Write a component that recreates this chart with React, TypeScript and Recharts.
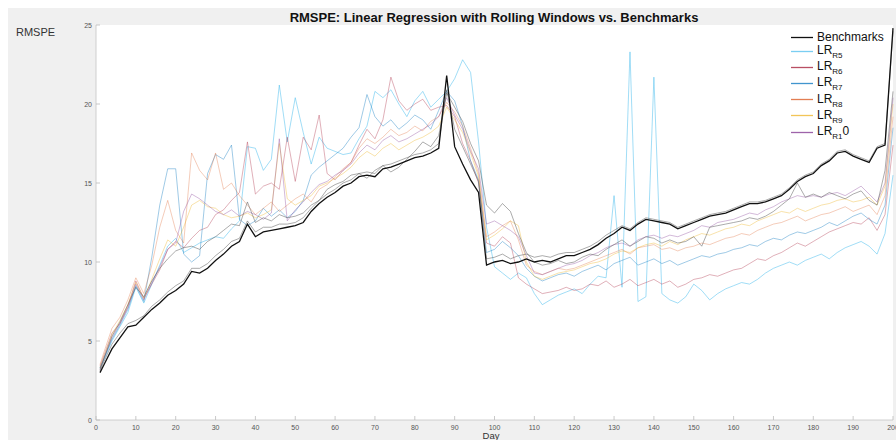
import * as React from "react"
import { LineChart, Line, XAxis, YAxis, CartesianGrid } from "recharts"

// days on the x axis (day 1, then every second day)
const days = [
  1, 2, 4, 6, 8, 10, 12, 14, 16, 18,
  20, 22, 24, 26, 28, 30, 32, 34, 36, 38,
  40, 42, 44, 46, 48, 50, 52, 54, 56, 58,
  60, 62, 64, 66, 68, 70, 72, 74, 76, 78,
  80, 82, 84, 86, 88, 90, 92, 94, 96, 98,
  100, 102, 104, 106, 108, 110, 112, 114, 116, 118,
  120, 122, 124, 126, 128, 130, 132, 134, 136, 138,
  140, 142, 144, 146, 148, 150, 152, 154, 156, 158,
  160, 162, 164, 166, 168, 170, 172, 174, 176, 178,
  180, 182, 184, 186, 188, 190, 192, 194, 196, 198,
  200,
]

const benchmarks = [
  3.0, 3.5, 4.5, 5.2, 5.9, 6.0, 6.5, 7.0, 7.4, 7.9,
  8.2, 8.6, 9.4, 9.3, 9.6, 10.1, 10.5, 11.0, 11.3, 12.4,
  11.6, 11.9, 12.0, 12.1, 12.2, 12.3, 12.5, 13.2, 13.7, 14.1,
  14.4, 14.8, 15.0, 15.4, 15.5, 15.4, 15.9, 16.0, 16.2, 16.4,
  16.6, 16.7, 16.9, 17.2, 21.8, 17.3, 16.2, 15.2, 14.4, 9.8,
  10.0, 10.1, 9.9, 10.0, 10.2, 10.0, 10.1, 10.0, 10.2, 10.4,
  10.4, 10.6, 10.8, 11.1, 11.5, 11.8, 12.2, 12.0, 12.4, 12.7,
  12.6, 12.5, 12.4, 12.1, 12.3, 12.5, 12.7, 12.9, 13.0, 13.1,
  13.3, 13.5, 13.7, 13.7, 13.8, 14.0, 14.2, 14.6, 15.1, 15.4,
  15.6, 16.1, 16.4, 16.9, 17.0, 16.7, 16.5, 16.3, 17.2, 17.4,
  24.8,
]

// other benchmark runs (not in the legend)
const benchB = [
  3.1, 3.7, 4.8, 5.5, 6.1, 6.3, 6.6, 7.2, 7.6, 8.1,
  8.5, 8.8, 9.6, 9.6, 9.9, 10.4, 10.8, 11.3, 11.5, 12.6,
  11.9, 12.2, 12.2, 12.4, 12.4, 12.5, 12.8, 13.4, 13.9, 14.3,
  14.6, 15.0, 15.2, 15.6, 15.7, 15.6, 16.1, 16.2, 16.4, 16.6,
  16.8, 16.9, 17.1, 17.5, 20.9, 18.4, 17.3, 16.2, 15.1, 10.2,
  10.3, 10.5, 10.2, 10.4, 10.5, 10.3, 10.4, 10.3, 10.5, 10.6,
  10.6, 10.8, 11.0, 11.3, 11.7, 12.0, 12.3, 12.1, 12.5, 12.8,
  12.7, 12.6, 12.5, 12.2, 12.4, 12.6, 12.8, 13.0, 13.1, 13.2,
  13.4, 13.6, 13.8, 13.8, 13.9, 14.1, 14.3, 14.7, 15.2, 15.5,
  15.7, 16.2, 16.5, 17.0, 17.1, 16.8, 16.6, 16.4, 17.3, 17.5,
  24.6,
]

const benchC = [
  3.2, 3.9, 5.3, 6.2, 7.3, 8.4, 7.8, 8.8, 9.6, 10.2,
  10.7, 10.9, 11.0, 10.8, 11.3, 11.6, 12.0, 12.4, 12.3, 13.8,
  12.5, 12.8, 12.6, 13.0, 12.8, 12.9, 13.1, 13.6, 13.9, 14.6,
  14.9, 15.1, 15.5, 15.6, 15.3, 15.8, 16.1, 15.7, 16.0, 16.5,
  17.0, 17.6, 17.3, 18.0, 20.7, 19.8, 18.9, 17.5, 16.4, 13.6,
  13.1, 13.7, 13.2, 11.8, 10.6, 10.0, 9.8, 9.9, 10.1, 9.9,
  10.0, 10.3, 10.5, 10.4, 10.8, 11.1, 11.4, 11.0, 11.3, 11.6,
  11.5, 11.2, 11.4, 11.2, 11.3, 11.6, 11.0, 12.2, 12.3, 12.4,
  12.5, 12.6, 12.8, 12.7, 12.9, 13.2, 13.6, 14.0, 15.0, 14.1,
  14.3, 14.1, 14.4, 14.2, 14.0, 14.3, 14.5, 13.9, 13.6, 15.8,
  20.8,
]

const lrR5 = [
  3.3, 3.8, 5.0, 5.9, 6.8, 8.4, 7.4, 8.6, 9.8, 11.0,
  11.5, 10.6, 10.9, 11.2, 11.4, 11.6, 11.5, 12.1, 12.6, 17.3,
  17.2, 15.8, 16.5, 21.2, 17.6, 20.4, 18.2, 16.2, 17.9, 17.2,
  17.0, 16.8, 16.9, 17.8, 18.6, 20.8, 20.4, 20.9, 20.0, 19.2,
  20.2, 20.8, 19.8, 20.3, 20.8, 21.6, 22.8, 22.0, 17.6, 12.2,
  9.7, 9.3, 8.9, 9.3, 9.0, 8.0, 7.3, 7.6, 7.9, 8.1,
  8.3, 8.0, 8.6, 9.1, 9.0, 14.2, 8.4, 23.3, 7.5, 7.8,
  21.7, 8.0, 7.6, 7.4, 7.8, 8.6, 8.2, 7.6, 8.0, 8.3,
  8.5, 8.7, 8.6, 8.9, 9.3, 9.6, 9.8, 10.0, 9.8, 10.1,
  10.3, 10.5, 10.2, 10.6, 10.9, 11.1, 11.3, 11.0, 10.5, 11.8,
  15.5,
]

const lrR6 = [
  3.4, 4.1, 5.5, 6.1, 7.2, 8.8, 7.7, 8.6, 9.5, 10.8,
  11.3, 10.9, 11.5, 12.0, 12.2, 13.0, 13.3, 13.9, 14.4, 17.6,
  14.3, 14.8, 15.0, 14.6, 17.9, 15.1, 17.9, 17.1, 19.3, 15.6,
  15.2, 15.8, 16.3, 17.4, 18.4, 17.8, 19.0, 21.7, 20.2, 19.6,
  20.0, 20.3, 19.6, 19.8, 19.9, 19.2, 17.5, 16.4, 15.0, 11.2,
  11.0, 11.6, 11.2, 9.0, 8.6, 8.3, 8.0, 8.1, 8.2, 8.4,
  8.2, 8.3, 8.6, 8.5, 8.8, 8.4, 8.6, 8.9, 8.5, 8.7,
  8.9, 8.6, 8.8, 8.4, 8.6, 8.9, 9.0, 9.2, 9.1, 9.3,
  9.5, 9.6, 9.9, 10.2, 10.1, 10.4, 10.6, 10.9, 11.2, 11.0,
  11.3, 11.6, 11.9, 12.1, 12.3, 12.5, 12.4, 12.8, 12.0, 13.0,
  17.4,
]

const lrR7 = [
  3.3, 3.9, 5.1, 6.0, 7.0, 8.5, 7.5, 10.3, 13.6, 15.9,
  15.9, 10.5, 10.0, 10.4, 15.6, 16.8, 16.5, 17.4, 12.7, 12.3,
  12.6, 13.4, 12.9, 13.3, 12.8, 13.2, 13.9, 15.5, 16.0, 16.4,
  16.8, 17.2, 17.9, 18.5, 20.6, 19.2, 18.6, 19.0, 18.4, 18.8,
  19.3, 19.0, 18.4, 19.6, 20.8, 20.2, 18.6, 16.4, 15.2, 10.6,
  10.8, 11.3, 10.9, 10.4, 9.6, 9.1, 8.8, 9.0, 9.2, 9.3,
  9.1, 9.4, 9.6, 9.8, 9.5, 9.9, 10.1, 10.3, 9.8, 10.0,
  10.2, 9.9, 10.1, 9.8, 10.0, 10.2, 10.4, 10.3, 10.5, 10.6,
  10.8, 10.9, 11.1, 11.0, 11.3, 11.5, 11.4, 11.7, 11.9, 11.8,
  12.0, 12.2, 12.5, 12.3, 12.6, 12.9, 13.1, 12.7, 12.4, 13.6,
  18.5,
]

const lrR8 = [
  3.5, 4.3, 5.8, 6.5, 7.6, 9.0, 8.0, 9.8, 12.2, 13.9,
  12.0, 11.2, 16.9, 15.8, 15.2, 16.9, 14.6, 15.0, 14.2, 13.6,
  13.0, 13.4, 13.8, 13.2, 13.6, 14.0, 14.3, 13.8, 14.6, 14.9,
  15.4, 15.9, 16.3, 17.2, 17.8, 17.5, 17.9, 18.4, 18.0, 18.2,
  18.6, 18.3, 18.9, 19.2, 20.1, 19.5, 18.6, 17.2, 15.6, 11.6,
  11.9, 12.3, 12.6, 11.4, 9.8, 9.4, 9.2, 9.4, 9.6, 9.5,
  9.6, 9.8, 10.0, 10.2, 10.4, 10.6, 10.8, 10.5, 10.9, 11.0,
  11.1, 10.8, 10.9, 10.7, 10.9, 11.0, 11.2, 11.1, 11.3, 11.5,
  11.6, 11.8, 11.7, 12.0, 12.2, 12.4, 12.5, 12.7, 12.9, 12.6,
  12.8, 13.0, 13.1, 13.3, 13.5, 13.2, 13.4, 13.6, 13.0, 14.2,
  19.2,
]

const lrR9 = [
  3.3, 4.0, 5.4, 6.3, 7.3, 8.7, 7.7, 8.9, 10.2, 11.4,
  11.0, 12.2, 13.6, 13.9, 13.5, 13.4, 13.0, 12.8, 12.9, 13.1,
  12.8, 13.0, 13.3, 17.5, 14.0, 13.6, 13.9, 14.2, 14.8, 15.0,
  15.3, 15.6, 16.0, 16.6, 17.0, 16.7, 17.2, 17.5, 17.1, 17.4,
  17.7, 17.9, 18.2, 18.6, 19.8, 19.0, 18.2, 16.9, 15.4, 11.4,
  11.7, 12.1, 12.6, 12.3, 10.0, 9.1, 8.9, 9.1, 9.3, 9.4,
  9.5, 9.7, 9.9, 10.0, 10.2, 10.5, 10.7, 10.6, 10.9, 11.1,
  11.2, 11.0, 11.3, 11.1, 11.4, 11.6, 11.8, 11.7, 11.9, 12.1,
  12.2, 12.4, 12.3, 12.6, 12.8, 13.0, 13.2, 13.1, 13.4, 13.2,
  13.4, 13.6, 13.7, 13.9, 14.0, 13.8, 13.9, 14.1, 13.6, 14.8,
  20.0,
]

const lrR10 = [
  3.2, 3.9, 5.2, 6.1, 7.1, 8.6, 7.6, 8.7, 9.7, 10.8,
  11.2, 13.2, 14.3, 14.0, 13.6, 13.2, 13.0, 13.3, 12.9, 13.2,
  13.0, 12.7, 13.1, 17.8, 12.6, 13.3, 13.8, 14.4, 14.9, 15.1,
  15.5, 15.8, 16.2, 16.9, 17.4, 17.1, 17.7, 18.0, 17.6, 17.8,
  18.1, 18.4, 18.7, 19.2, 20.4, 19.3, 18.4, 17.0, 15.9, 12.4,
  12.6, 12.3, 12.0, 11.6, 10.4, 9.3, 9.2, 9.4, 9.6, 9.8,
  9.9, 10.1, 10.4, 10.6, 10.9, 11.1, 11.2, 11.0, 11.4, 11.6,
  11.7, 11.5, 11.7, 11.6, 11.8, 12.0, 12.3, 12.2, 12.5, 12.6,
  12.7, 12.9, 13.1, 13.0, 13.3, 13.5, 13.8, 14.0, 14.2, 14.1,
  14.2, 14.1, 14.3, 14.4, 14.2, 14.5, 14.8, 14.3, 13.8, 15.0,
  20.4,
]

const xTicks = [0, 10, 20, 30, 40, 50, 60, 70, 80, 90, 100, 110, 120, 130, 140, 150, 160, 170, 180, 190, 200]
const yTicks = [0, 5, 10, 15, 20, 25]

// drawn in this order: faint lines first, black benchmark last
const SERIES = [
  { key: "lrR5", values: lrR5, color: "#4DBEEE", width: 0.75, opacity: 0.7, label: "LR", sub: "R5", tail: "" },
  { key: "lrR6", values: lrR6, color: "#A2142F", width: 0.75, opacity: 0.45, label: "LR", sub: "R6", tail: "" },
  { key: "lrR7", values: lrR7, color: "#0072BD", width: 0.75, opacity: 0.5, label: "LR", sub: "R7", tail: "" },
  { key: "lrR8", values: lrR8, color: "#D95319", width: 0.75, opacity: 0.4, label: "LR", sub: "R8", tail: "" },
  { key: "lrR9", values: lrR9, color: "#EDB120", width: 0.75, opacity: 0.5, label: "LR", sub: "R9", tail: "" },
  { key: "lrR10", values: lrR10, color: "#7E2F8E", width: 0.75, opacity: 0.45, label: "LR", sub: "R1", tail: "0" },
  { key: "benchC", values: benchC, color: "#555555", width: 0.75, opacity: 0.65, label: "", sub: "", tail: "" },
  { key: "benchB", values: benchB, color: "#444444", width: 0.75, opacity: 0.6, label: "", sub: "", tail: "" },
  { key: "benchmarks", values: benchmarks, color: "#111111", width: 1.3, opacity: 1, label: "Benchmarks", sub: "", tail: "" },
]

const LEGEND_KEYS = ["benchmarks", "lrR5", "lrR6", "lrR7", "lrR8", "lrR9", "lrR10"]

const chartData = days.map((day, i) => {
  const row: Record<string, number> = { day }
  SERIES.forEach((s) => {
    row[s.key] = s.values[i]
  })
  return row
})

const FONT = '"Liberation Sans", Arial, Helvetica, sans-serif'

const XTick = ({ x, y, payload }: any) => (
  <g>
    <line x1={x} y1={y} x2={x} y2={y - 4} stroke="#bbbbbb" strokeWidth={0.8} />
    <text x={x} y={y + 9.5} textAnchor="middle" fontSize={7} fill="#555" fontFamily={FONT}>
      {payload.value}
    </text>
  </g>
)

const YTick = ({ x, y, payload }: any) => (
  <g>
    <line x1={x} y1={y} x2={x + 4} y2={y} stroke="#bbbbbb" strokeWidth={0.8} />
    <text x={x - 4} y={y + 2.5} textAnchor="end" fontSize={7} fill="#555" fontFamily={FONT}>
      {payload.value}
    </text>
  </g>
)

function ChartLegend() {
  return (
    <div style={{ position: "absolute", left: 791, top: 31, fontFamily: FONT, color: "#111" }}>
      {LEGEND_KEYS.map((k, i) => {
        const s = SERIES.find((x) => x.key === k)!
        const top = i === 0 ? 0 : 13.5 + (i - 1) * 16.2
        return (
          <div
            key={k}
            style={{ position: "absolute", top, left: 0, height: 13, display: "flex", alignItems: "center", whiteSpace: "nowrap" }}
          >
            <svg width={23} height={13} style={{ display: "block" }}>
              <line x1={0} y1={6.5} x2={22} y2={6.5} stroke={s.color} strokeWidth={1.3} strokeOpacity={k === "benchmarks" ? 1 : 0.75} />
            </svg>
            <span style={{ fontSize: 12, marginLeft: 3, lineHeight: "13px" }}>
              {s.label}
              {s.sub && (
                <span style={{ fontSize: 8, position: "relative", top: 4 }}>{s.sub}</span>
              )}
              {s.tail}
            </span>
          </div>
        )
      })}
    </div>
  )
}

export default function App() {
  return (
    <div style={{ position: "fixed", left: 0, top: 0, width: 896, height: 440, background: "#ffffff", overflow: "hidden", fontFamily: FONT }}>
      <div style={{ position: "absolute", left: 8, top: 8, width: 888, height: 432, background: "#f0f0f0" }} />
      <div style={{ position: "absolute", left: 0, top: 0 }}>
        <LineChart width={896} height={440} data={chartData} margin={{ top: 25, right: 3, bottom: 0, left: 56 }}>
          <CartesianGrid fill="#ffffff" stroke="none" horizontal={false} vertical={false} />
          <XAxis
            dataKey="day"
            type="number"
            domain={[0, 200]}
            ticks={xTicks}
            height={20}
            tickSize={0}
            tickMargin={0}
            tickLine={false}
            tick={<XTick />}
            axisLine={{ stroke: "#c4c4c4", strokeWidth: 0.8 }}
            interval={0}
          />
          <YAxis
            type="number"
            domain={[0, 25]}
            ticks={yTicks}
            width={40}
            tickSize={0}
            tickMargin={0}
            tickLine={false}
            tick={<YTick />}
            axisLine={{ stroke: "#c4c4c4", strokeWidth: 0.8 }}
            interval={0}
          />
          {SERIES.map((s) => (
            <Line
              key={s.key}
              dataKey={s.key}
              type="linear"
              stroke={s.color}
              strokeWidth={s.width}
              strokeOpacity={s.opacity}
              dot={false}
              activeDot={false}
              isAnimationActive={false}
            />
          ))}
        </LineChart>
      </div>
      <div style={{ position: "absolute", left: 0, width: 988, top: 10, lineHeight: "15px", textAlign: "center", fontSize: 13, fontWeight: "bold", color: "#111", whiteSpace: "nowrap" }}>
        RMSPE: Linear Regression with Rolling Windows vs. Benchmarks
      </div>
      <div style={{ position: "absolute", left: 16, top: 26, fontSize: 11, color: "#333" }}>RMSPE</div>
      <div style={{ position: "absolute", left: 0, width: 982, top: 431, lineHeight: "9px", textAlign: "center", fontSize: 9.5, color: "#333" }}>Day</div>
      <ChartLegend />
    </div>
  )
}
